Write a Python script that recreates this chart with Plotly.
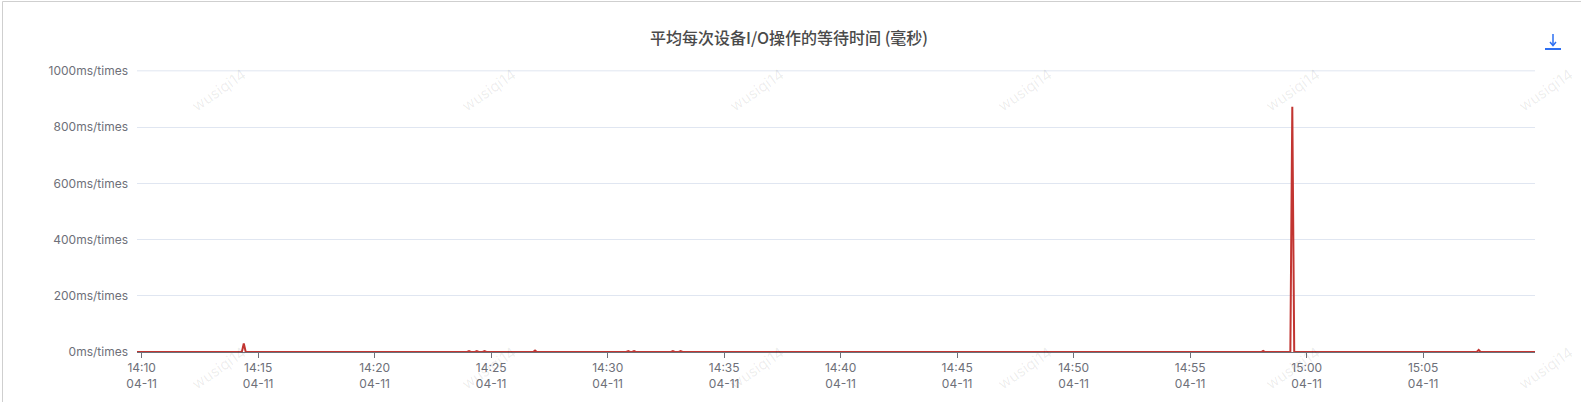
import plotly.graph_objects as go
import pandas as pd

# ---------------- data ----------------
start_time = "2024-04-11 14:09:48"
step_seconds = 5
# ms/times, one row = one minute (12 samples of 5 s)
values = [
    0, 0, 0, 0, 0, 0, 0, 0, 0, 0, 0, 0,
    0, 2, 0, 0, 0, 0, 0, 0, 0, 0, 0, 0,
    0, 0, 0, 0, 0, 0, 0, 0, 0, 2, 0, 0,
    0, 0, 0, 0, 0, 0, 0, 0, 0, 0, 2, 0,
    0, 0, 0, 0, 0, 0, 0, 30, 0, 0, 0, 0,
    0, 0, 0, 0, 0, 0, 0, 0, 0, 0, 0, 0,
    0, 0, 0, 0, 0, 0, 0, 0, 2, 0, 0, 0,
    0, 0, 0, 0, 0, 0, 0, 0, 0, 0, 0, 0,
    0, 0, 0, 0, 0, 2, 0, 0, 0, 0, 0, 0,
    0, 0, 0, 0, 0, 2, 0, 0, 0, 0, 0, 2,
    0, 0, 0, 0, 0, 0, 0, 0, 0, 0, 0, 0,
    0, 0, 0, 0, 0, 2, 0, 0, 0, 0, 0, 0,
    0, 0, 0, 0, 0, 2, 0, 0, 0, 2, 0, 0,
    0, 0, 0, 0, 0, 0, 0, 0, 0, 0, 0, 0,
    0, 0, 0, 3, 0, 0, 0, 3, 0, 0, 0, 3,
    0, 0, 0, 0, 0, 0, 0, 0, 0, 0, 0, 0,
    0, 2, 0, 0, 0, 0, 0, 0, 0, 0, 0, 0,
    0, 5, 0, 0, 0, 0, 0, 0, 0, 0, 0, 0,
    0, 0, 0, 0, 0, 0, 0, 0, 0, 0, 0, 0,
    0, 0, 0, 0, 0, 0, 0, 0, 0, 0, 0, 0,
    0, 0, 0, 0, 0, 0, 0, 0, 0, 0, 0, 0,
    0, 3, 0, 0, 3, 0, 0, 0, 0, 0, 0, 0,
    0, 0, 0, 0, 0, 0, 0, 2, 0, 0, 0, 0,
    3, 0, 0, 0, 3, 0, 0, 0, 0, 0, 0, 0,
    0, 0, 0, 0, 0, 0, 0, 2, 0, 0, 0, 0,
    0, 0, 0, 0, 0, 0, 0, 0, 0, 0, 0, 0,
    0, 0, 0, 0, 0, 0, 0, 0, 0, 0, 0, 0,
    0, 0, 0, 0, 0, 2, 0, 0, 0, 0, 0, 0,
    0, 0, 0, 0, 0, 0, 0, 0, 0, 0, 0, 0,
    0, 0, 0, 0, 0, 0, 2, 0, 0, 0, 0, 0,
    0, 0, 0, 0, 0, 0, 0, 0, 0, 0, 0, 0,
    0, 0, 0, 0, 0, 0, 0, 0, 0, 0, 0, 0,
    0, 0, 0, 0, 0, 2, 0, 0, 0, 0, 0, 0,
    0, 0, 0, 0, 0, 0, 0, 0, 0, 0, 0, 0,
    0, 0, 0, 0, 0, 0, 0, 0, 0, 0, 0, 0,
    0, 0, 0, 0, 0, 0, 0, 0, 0, 0, 0, 0,
    0, 0, 0, 0, 0, 0, 2, 0, 0, 0, 0, 0,
    0, 0, 0, 0, 0, 0, 0, 0, 0, 0, 0, 0,
    0, 0, 0, 0, 0, 0, 0, 0, 0, 0, 0, 0,
    0, 0, 0, 2, 0, 0, 0, 0, 0, 0, 0, 0,
    0, 0, 0, 0, 0, 0, 0, 0, 0, 0, 0, 0,
    0, 0, 0, 0, 0, 0, 0, 0, 2, 0, 0, 0,
    0, 0, 0, 0, 0, 0, 0, 0, 0, 0, 0, 0,
    0, 0, 0, 0, 0, 0, 0, 0, 0, 2, 0, 0,
    0, 0, 0, 0, 0, 0, 0, 0, 0, 0, 0, 0,
    0, 0, 0, 0, 0, 0, 0, 0, 0, 0, 0, 0,
    0, 0, 0, 0, 0, 0, 0, 0, 2, 0, 0, 0,
    0, 0, 0, 0, 0, 0, 0, 0, 0, 2, 0, 0,
    0, 0, 0, 0, 4, 0, 0, 0, 0, 2, 0, 0,
    0, 0, 0, 0, 0, 0, 0, 872, 0, 0, 0, 0,
    0, 0, 0, 0, 0, 0, 0, 0, 0, 0, 0, 0,
    0, 0, 0, 0, 0, 0, 0, 0, 0, 0, 2, 0,
    0, 0, 0, 0, 0, 0, 0, 0, 0, 0, 0, 0,
    0, 0, 0, 0, 0, 0, 0, 0, 0, 0, 0, 0,
    0, 0, 0, 0, 0, 0, 0, 2, 0, 0, 0, 0,
    0, 0, 0, 0, 0, 0, 0, 0, 0, 0, 0, 2,
    0, 0, 0, 0, 0, 0, 0, 0, 0, 0, 0, 0,
    0, 0, 2, 0, 0, 0, 0, 7, 0, 0, 0, 0,
    0, 0, 0, 0, 0, 0, 2, 0, 0, 0, 0, 0,
    0, 0, 0, 0, 0, 0, 0, 0, 0, 0, 0, 0,
    0,
]
tick_times = ["2024-04-11 14:10", "2024-04-11 14:15", "2024-04-11 14:20", "2024-04-11 14:25",
              "2024-04-11 14:30", "2024-04-11 14:35", "2024-04-11 14:40", "2024-04-11 14:45",
              "2024-04-11 14:50", "2024-04-11 14:55", "2024-04-11 15:00", "2024-04-11 15:05"]
tick_labels = ["14:10<br>04-11", "14:15<br>04-11", "14:20<br>04-11", "14:25<br>04-11",
               "14:30<br>04-11", "14:35<br>04-11", "14:40<br>04-11", "14:45<br>04-11",
               "14:50<br>04-11", "14:55<br>04-11", "15:00<br>04-11", "15:05<br>04-11"]
y_ticks = [0, 200, 400, 600, 800, 1000]
y_tick_labels = ["0ms/times", "200ms/times", "400ms/times", "600ms/times",
                 "800ms/times", "1000ms/times"]
title_text = "平均每次设备I/O操作的等待时间 (毫秒)"
watermark = "wusiqi14"

times = pd.date_range(start=start_time, periods=len(values), freq=f"{step_seconds}s")

W, H = 1581, 402
ML, MR, MT, MB = 137, 46, 70, 50
PW, PH = W - ML - MR, H - MT - MB

def px_x(x):
    return (x - ML) / PW

def px_y(y):
    return (H - MB - y) / PH

fig = go.Figure()
fig.add_trace(go.Scatter(
    x=times, y=values, mode="lines",
    line=dict(color="#c23531", width=2),
    hoverinfo="x+y", showlegend=False,
))

FONT = "Noto Sans CJK SC, Inter, sans-serif"
annotations = [
    dict(text=title_text, xref="paper", yref="paper",
         x=px_x(789), y=px_y(37), xanchor="center", yanchor="middle",
         showarrow=False, font=dict(family=FONT, size=16, color="#4a4a4a", weight=500)),
]
for wy in [90, 368]:
    for wx in [218, 488, 756, 1024, 1292, 1545]:
        annotations.append(dict(
            text=watermark, xref="paper", yref="paper", x=px_x(wx), y=px_y(wy),
            xanchor="center", yanchor="middle", showarrow=False, textangle=-35,
            font=dict(family="Inter, sans-serif", size=15, color="rgba(0,0,0,0.08)"),
        ))

shapes = [
    # outer frame
    dict(type="rect", xref="paper", yref="paper", x0=px_x(2.5), x1=px_x(W + 10),
         y0=px_y(H + 10), y1=px_y(1.5), line=dict(color="#cfcfcf", width=1),
         fillcolor="rgba(0,0,0,0)", layer="below"),
    # top grid line (at the plot edge)
    dict(type="line", xref="paper", yref="y", x0=0, x1=1, y0=y_ticks[-1], y1=y_ticks[-1],
         line=dict(color="#E0E6F1", width=1), layer="below"),
    # download icon
    dict(type="line", xref="paper", yref="paper", x0=px_x(1553), x1=px_x(1553),
         y0=px_y(34), y1=px_y(45), line=dict(color="#2d6ff2", width=1.5)),
    dict(type="path", xref="paper", yref="paper",
         path=f"M {px_x(1550)} {px_y(42)} L {px_x(1553)} {px_y(45.5)} L {px_x(1556)} {px_y(42)}",
         line=dict(color="#2d6ff2", width=1.5)),
    dict(type="line", xref="paper", yref="paper", x0=px_x(1545), x1=px_x(1561),
         y0=px_y(49), y1=px_y(49), line=dict(color="#2d6ff2", width=2)),
]

fig.update_layout(
    width=W, height=H,
    margin=dict(l=ML, r=MR, t=MT, b=MB, pad=0),
    paper_bgcolor="white", plot_bgcolor="white",
    font=dict(family="Inter, sans-serif", size=12, color="#6E7079"),
    annotations=annotations, shapes=shapes,
    xaxis=dict(
        type="date", range=[times[0], times[-1]],
        tickvals=pd.to_datetime(tick_times), ticktext=tick_labels,
        showgrid=False, zeroline=False,
        showline=True, linecolor="#6E7079", linewidth=1,
        ticks="outside", ticklen=5, tickcolor="#6E7079",
        tickfont=dict(family="Inter, sans-serif", size=12, color="#6E7079"),
    ),
    yaxis=dict(
        range=[0, 1003], tickvals=y_ticks, ticktext=y_tick_labels,
        showgrid=True, gridcolor="#E0E6F1", gridwidth=1,
        zeroline=False, showline=False, ticks="",
        ticklabelstandoff=8,
        tickfont=dict(family="Inter, sans-serif", size=12, color="#6E7079"),
    ),
)

fig.write_html(
    "out.html",
    config={"displayModeBar": False},
    post_script="document.body.style.margin='0';document.body.style.overflow='hidden';",
)
